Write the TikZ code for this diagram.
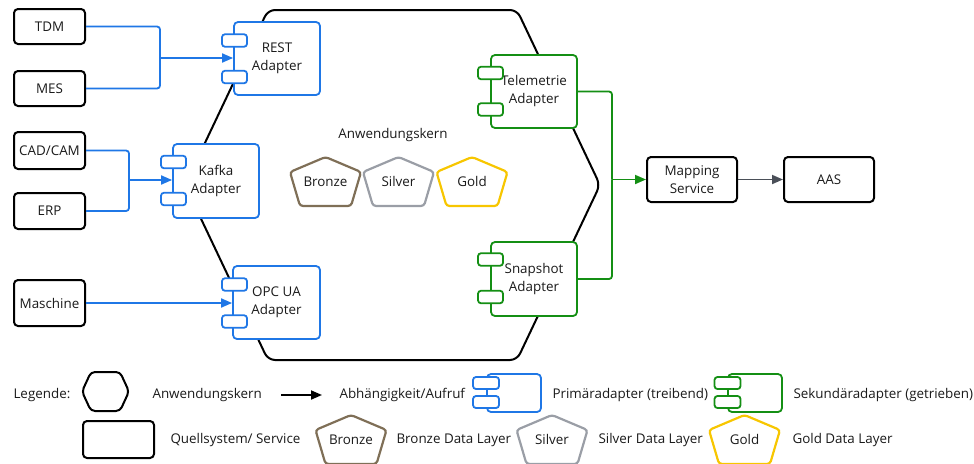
\documentclass[tikz,border=0pt]{standalone}
\usepackage{fontspec}
\setmainfont{Open Sans}
\usetikzlibrary{arrows.meta,calc}
\definecolor{pblue}{HTML}{1F77E6}
\definecolor{sgreen}{HTML}{148F14}
\definecolor{bronzec}{HTML}{7F6F57}
\definecolor{silverc}{HTML}{9A9EA6}
\definecolor{goldc}{HTML}{F7C600}
\definecolor{grayarr}{HTML}{4A4F58}
\definecolor{txt}{HTML}{1A1A1A}
\tikzset{
  every node/.style={text=txt, font=\fontsize{13.4}{18}\selectfont},
  srcbox/.style={draw=black, line width=2pt, rounded corners=4pt, fill=white, inner sep=0pt, align=center},
  padapter/.style={draw=pblue, line width=1.8pt, rounded corners=4pt, fill=white, inner sep=0pt, align=center},
  sadapter/.style={draw=sgreen, line width=1.8pt, rounded corners=4pt, fill=white, inner sep=0pt, align=center},
  bport/.style={draw=pblue, line width=1.8pt, rounded corners=3pt, fill=white, minimum width=25pt, minimum height=12.5pt, inner sep=0pt},
  gport/.style={draw=sgreen, line width=1.8pt, rounded corners=3pt, fill=white, minimum width=25pt, minimum height=12.5pt, inner sep=0pt},
  bline/.style={draw=pblue, line width=1.8pt, rounded corners=3pt},
  gline/.style={draw=sgreen, line width=1.8pt, rounded corners=3pt},
  barrow/.style={draw=pblue, line width=1.8pt, -{Triangle[length=11pt,width=9pt]}},
  garrow/.style={draw=sgreen, line width=1.8pt, -{Triangle[length=11pt,width=9pt]}},
  karrow/.style={draw=grayarr, line width=1.8pt, -{Triangle[length=11pt,width=9pt]}},
  penta/.style={line width=2.2pt, rounded corners=3pt},
  legtext/.style={anchor=west}
}
\newcommand{\pentagon}[3]{%
  \draw[penta, draw=#3] ($(#1)+(0,-24.5)$) -- ($(#1)+(35.5,-9.5)$) -- ($(#1)+(25.5,24.5)$) -- ($(#1)+(-25.5,24.5)$) -- ($(#1)+(-35.5,-9.5)$) -- cycle;
}
\begin{document}
\begin{tikzpicture}[x=1pt,y=-1pt]
\useasboundingbox (0,0) rectangle (974,463);

% Hexagon core
\draw[line width=2pt, rounded corners=7pt] (268,10) -- (517,10) -- (600,185) -- (517,360) -- (268,360) -- (185,185) -- cycle;
\node (kern) at (393,135) {Anwendungskern};

% source systems
\node[srcbox, minimum width=71pt, minimum height=35pt] (TDM) at (49.5,26.5) {TDM};
\node[srcbox, minimum width=71pt, minimum height=35pt] (MES) at (49.5,88.5) {MES};
\node[srcbox, minimum width=71pt, minimum height=37pt] (CAD) at (49.5,150.5) {CAD/CAM};
\node[srcbox, minimum width=71pt, minimum height=36pt] (ERP) at (49.5,211) {ERP};
\node[srcbox, minimum width=71pt, minimum height=46pt] (MAS) at (49.5,303) {Maschine};

% primary adapters
\node[padapter, minimum width=86pt, minimum height=73pt] (REST) at (277,58.5) {REST\\Adapter};
\node[bport] (REST-p1) at (234.5,40.5) {};
\node[bport] (REST-p2) at (234.5,77) {};
\node[padapter, minimum width=86pt, minimum height=74pt] (KAF) at (216,181) {Kafka\\Adapter};
\node[bport] (KAF-p1) at (173.5,162) {};
\node[bport] (KAF-p2) at (173.5,199) {};
\node[padapter, minimum width=87pt, minimum height=73pt] (OPC) at (276.5,302.5) {OPC UA\\Adapter};
\node[bport] (OPC-p1) at (234.5,284.5) {};
\node[bport] (OPC-p2) at (234.5,321.5) {};

% secondary adapters
\node[sadapter, minimum width=86pt, minimum height=73pt] (TEL) at (534,91.5) {Telemetrie\\Adapter};
\node[gport] (TEL-p1) at (490.5,73) {};
\node[gport] (TEL-p2) at (490.5,109.5) {};
\node[sadapter, minimum width=86pt, minimum height=74pt] (SNP) at (534,279) {Snapshot\\Adapter};
\node[gport] (SNP-p1) at (490.5,259.5) {};
\node[gport] (SNP-p2) at (490.5,297) {};

% services
\node[srcbox, minimum width=90pt, minimum height=45pt] (MAP) at (692,179.5) {Mapping\\Service};
\node[srcbox, minimum width=90pt, minimum height=45pt] (AAS) at (829,179.5) {AAS};

% data layers
\coordinate (pB) at (325.5,181.5);
\coordinate (pS) at (398.5,181.5);
\coordinate (pG) at (472,181.5);
\pentagon{pB}{}{bronzec}
\pentagon{pS}{}{silverc}
\pentagon{pG}{}{goldc}
\node (tB) at (pB) {Bronze};
\node (tS) at (pS) {Silver};
\node (tG) at (pG) {Gold};

% connectors primary
\coordinate (j1) at (160,58);
\draw[bline] (TDM.east) -| (j1);
\draw[bline] (MES.east) -| (j1);
\draw[barrow] (j1) -- (REST.west |- j1);
\coordinate (j2) at (129,180);
\draw[bline] (CAD.east) -| (j2);
\draw[bline] (ERP.east) -| (j2);
\draw[barrow] (j2) -- (KAF.west |- j2);
\draw[barrow] (MAS.east) -- (OPC.west |- MAS.east);

% connectors secondary
\coordinate (j3) at (612,179.5);
\draw[gline] (TEL.east) -| (j3);
\draw[gline] (SNP.east) -| (j3);
\draw[garrow] (j3) -- (MAP.west);
\draw[karrow] (MAP.east) -- (AAS.west);

% legend
\node[legtext] (leg) at (10,395) {Legende:};
\draw[line width=2pt, rounded corners=4pt] (91,372) -- (120,372) -- (129,391.5) -- (120,411) -- (91,411) -- (82,391.5) -- cycle;
\node[legtext] (lkern) at (149,395) {Anwendungskern};
\coordinate (la1) at (281,395);
\coordinate (la2) at (322,395);
\draw[line width=1.8pt, draw=black, -{Triangle[length=11pt,width=9pt]}] (la1) -- (la2);
\node[legtext] (labh) at (336,395) {Abhängigkeit/Aufruf};
\node[padapter, minimum width=54pt, minimum height=38pt] (lP) at (514,393) {};
\node[bport, minimum width=26pt, minimum height=12pt] (lP1) at (486,383) {};
\node[bport, minimum width=26pt, minimum height=12pt] (lP2) at (486,402) {};
\node[legtext] (lPt) at (549,395) {Primäradapter (treibend)};
\node[sadapter, minimum width=54pt, minimum height=38pt] (lS) at (755,393) {};
\node[gport, minimum width=26pt, minimum height=12pt] (lS1) at (727.5,383) {};
\node[gport, minimum width=26pt, minimum height=12pt] (lS2) at (727.5,402) {};
\node[legtext] (lSt) at (790,395) {Sekundäradapter (getrieben)};

\node[srcbox, minimum width=71pt, minimum height=37pt] (lQ) at (118.5,439.5) {};
\node[legtext] (lQt) at (167,440) {Quellsystem/ Service};
\coordinate (lpB) at (351,439.5);
\coordinate (lpS) at (552,439.5);
\coordinate (lpG) at (744.5,439.5);
\pentagon{lpB}{}{bronzec}
\pentagon{lpS}{}{silverc}
\pentagon{lpG}{}{goldc}
\node (ltB) at (lpB) {Bronze};
\node (ltS) at (lpS) {Silver};
\node (ltG) at (lpG) {Gold};
\node[legtext] (lBt) at (393,440) {Bronze Data Layer};
\node[legtext] (lSt2) at (595,440) {Silver Data Layer};
\node[legtext] (lGt) at (789,440) {Gold Data Layer};
\end{tikzpicture}
\end{document}
